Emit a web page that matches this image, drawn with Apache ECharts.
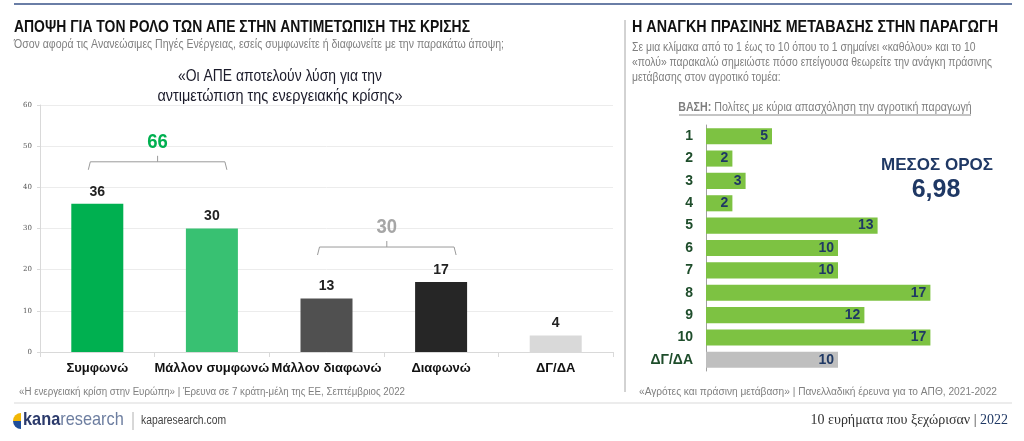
<!DOCTYPE html>
<html>
<head>
<meta charset="utf-8">
<script src="https://cdn.jsdelivr.net/npm/echarts@6/dist/echarts.min.js"></script>
<style>
html,body{margin:0;padding:0;background:#fff;}
#c{width:1024px;height:441px;}
</style>
</head>
<body>
<div id="c"></div>
<script>
// ---- Data ----
const leftCategories = ['Συμφωνώ', 'Μάλλον συμφωνώ', 'Μάλλον διαφωνώ', 'Διαφωνώ', 'ΔΓ/ΔΑ'];
const leftValues = [36, 30, 13, 17, 4];
const leftTicks = [0, 10, 20, 30, 40, 50, 60];
const bracketGroups = [[0, 1], [2, 3]];

const rightCategories = ['1', '2', '3', '4', '5', '6', '7', '8', '9', '10', 'ΔΓ/ΔΑ'];
const rightValues = [5, 2, 3, 2, 13, 10, 10, 17, 12, 17, 10];
const meanValue = '6,98';

// ---- Styles ----
const SANS = "'Liberation Sans',Arial,sans-serif";
const leftColors = ['#00b050', '#38c172', '#505050', '#262626', '#d9d9d9'];
const bracketColors = ['#00b050', '#a6a6a6'];
const bracketOffsets = [42, 35];
const navy = '#1f3864';

const mctx = document.createElement('canvas').getContext('2d');
function fit(text, font, w) {
  mctx.font = font;
  const lines = text.split('\n');
  const mw = Math.max(...lines.map(l => mctx.measureText(l).width));
  return w / mw;
}
function txt(x, y, text, font, fill, w, extra) {
  const st = Object.assign({text: text, font: font, fill: fill}, extra || {});
  return {type: 'text', x: x, y: y, scaleX: w ? fit(text, font, w) : 1, style: st};
}

const bracketData = bracketGroups.map(g => {
  const vals = g.map(i => leftValues[i]);
  return [g[0], g[1], Math.max(...vals), vals.reduce((a, b) => a + b, 0)];
});

const F_TITLE = 'bold 17px ' + SANS;
const F_SUB = '12px ' + SANS;
const F_CT = '16px ' + SANS;
const F_FOOT = '10px ' + SANS;
const baseText = 'Πολίτες με κύρια απασχόληση την αγροτική παραγωγή';

const chart = echarts.init(document.getElementById('c'));
chart.setOption({
  animation: false,
  grid: [
    {left: 40, top: 105, width: 573, height: 247},
    {left: 706, top: 125, width: 264, height: 246}
  ],
  xAxis: [
    {
      type: 'category', gridIndex: 0, data: leftCategories,
      axisLine: {lineStyle: {color: '#d9d9d9'}},
      axisTick: {show: true, lineStyle: {color: '#d9d9d9'}},
      axisLabel: {color: '#111', fontFamily: SANS, fontWeight: 'bold', fontSize: 13, margin: 10, interval: 0}
    },
    {type: 'value', gridIndex: 1, min: 0, max: 20, show: false}
  ],
  yAxis: [
    {
      type: 'value', gridIndex: 0, min: leftTicks[0], max: leftTicks[leftTicks.length - 1], interval: 10,
      axisLine: {show: true, lineStyle: {color: '#d9d9d9'}},
      axisTick: {show: true, length: 3, lineStyle: {color: '#d9d9d9'}},
      axisLabel: {color: '#555', fontFamily: "'DejaVu Serif',serif", fontSize: 7, margin: 8},
      splitLine: {lineStyle: {color: '#ececec'}}
    },
    {
      type: 'category', gridIndex: 1, data: rightCategories, inverse: true,
      axisLine: {lineStyle: {color: '#a0a0a0'}},
      axisTick: {show: false},
      axisLabel: {color: '#1e4d2b', fontFamily: SANS, fontWeight: 'bold', fontSize: 14, margin: 13}
    }
  ],
  series: [
    {
      type: 'bar', xAxisIndex: 0, yAxisIndex: 0, barWidth: 52,
      data: leftValues.map((v, i) => ({value: v, itemStyle: {color: leftColors[i]}})),
      label: {show: true, position: 'top', distance: 5, color: '#222', fontFamily: SANS, fontWeight: 'bold', fontSize: 14}
    },
    {
      type: 'custom', xAxisIndex: 0, yAxisIndex: 0,
      data: bracketData,
      renderItem: function (params, api) {
        const i = params.dataIndex;
        const c1 = api.coord([api.value(0), api.value(2)]);
        const c2 = api.coord([api.value(1), api.value(2)]);
        const x1 = c1[0] - 9, x2 = c2[0] + 15;
        const y = c1[1] - bracketOffsets[i];
        const xm = (x1 + x2) / 2;
        const col = '#9a9a9a';
        return {
          type: 'group',
          children: [
            {type: 'polyline', shape: {points: [[x1, y + 8], [x1 + 2, y], [x2 - 2, y], [x2, y + 8]]}, style: {stroke: col, lineWidth: 1, fill: null}},
            {type: 'line', shape: {x1: xm, y1: y, x2: xm, y2: y - 6}, style: {stroke: col, lineWidth: 1}},
            {type: 'text', x: xm, y: y - 20, scaleX: 0.88, style: {text: String(api.value(3)), fill: bracketColors[i], font: 'bold 21px ' + SANS, textAlign: 'center', textVerticalAlign: 'middle'}}
          ]
        };
      }
    },
    {
      type: 'bar', xAxisIndex: 1, yAxisIndex: 1, barCategoryGap: '28%',
      data: rightValues.map((v, i) => ({value: v, itemStyle: {color: rightCategories[i] === 'ΔΓ/ΔΑ' ? '#bfbfbf' : '#7dc242'}})),
      label: {show: true, position: 'insideRight', distance: 4, color: navy, fontFamily: SANS, fontWeight: 'bold', fontSize: 14}
    }
  ],
  graphic: [
    {type: 'line', shape: {x1: 14, y1: 4, x2: 1012, y2: 4}, style: {stroke: '#6a7ea6', lineWidth: 2}},
    {type: 'line', shape: {x1: 625, y1: 20, x2: 625, y2: 392}, style: {stroke: '#a6a6a6', lineWidth: 1}},
    {type: 'line', shape: {x1: 14, y1: 403, x2: 1012, y2: 403}, style: {stroke: '#ececec', lineWidth: 2}},
    txt(14, 19, 'ΑΠΟΨΗ ΓΙΑ ΤΟΝ ΡΟΛΟ ΤΩΝ ΑΠΕ ΣΤΗΝ ΑΝΤΙΜΕΤΩΠΙΣΗ ΤΗΣ ΚΡΙΣΗΣ', F_TITLE, '#111', 456),
    txt(14, 39, 'Όσον αφορά τις Ανανεώσιμες Πηγές Ενέργειας, εσείς συμφωνείτε ή διαφωνείτε με την παρακάτω άποψη;', F_SUB, '#808080', 490),
    txt(280, 77, '«Οι ΑΠΕ αποτελούν λύση για την', F_CT, '#1b1b2a', 204, {textAlign: 'center', textVerticalAlign: 'middle'}),
    txt(280, 97, 'αντιμετώπιση της ενεργειακής κρίσης»', F_CT, '#1b1b2a', 245, {textAlign: 'center', textVerticalAlign: 'middle'}),
    txt(632, 19, 'Η ΑΝΑΓΚΗ ΠΡΑΣΙΝΗΣ ΜΕΤΑΒΑΣΗΣ ΣΤΗΝ ΠΑΡΑΓΩΓΗ', F_TITLE, '#111', 366),
    txt(632, 40, 'Σε μια κλίμακα από το 1 έως το 10 όπου το 1 σημαίνει «καθόλου» και το 10\n«πολύ» παρακαλώ σημειώστε πόσο επείγουσα θεωρείτε την ανάγκη πράσινης\nμετάβασης στον αγροτικό τομέα:', F_SUB, '#808080', 360, {lineHeight: 15}),
    {type: 'text', x: 825, y: 108, scaleX: fit('ΒΑΣΗ: ' + baseText, F_SUB, 292),
      style: {text: '{b|ΒΑΣΗ:} {n|' + baseText + '}', textAlign: 'center', textVerticalAlign: 'middle',
        rich: {b: {font: 'bold 12px ' + SANS, fill: '#7f7f7f'}, n: {font: F_SUB, fill: '#7f7f7f'}}}},
    {type: 'line', shape: {x1: 679, y1: 115, x2: 971, y2: 115}, style: {stroke: '#8a8a8a', lineWidth: 1}},
    {type: 'text', x: 937, y: 165, style: {text: 'ΜΕΣΟΣ ΟΡΟΣ', font: 'bold 17px ' + SANS, fill: navy, textAlign: 'center', textVerticalAlign: 'middle', shadowColor: 'rgba(0,0,0,0.35)', shadowBlur: 3, shadowOffsetX: 1, shadowOffsetY: 1}},
    {type: 'text', x: 936, y: 190, style: {text: meanValue, font: 'bold 25px ' + SANS, fill: navy, textAlign: 'center', textVerticalAlign: 'middle', shadowColor: 'rgba(0,0,0,0.35)', shadowBlur: 3, shadowOffsetX: 1, shadowOffsetY: 1}},
    txt(19, 387, '«Η ενεργειακή κρίση στην Ευρώπη» | Έρευνα σε 7 κράτη-μέλη της ΕΕ, Σεπτέμβριος 2022', F_FOOT, '#808080', 386),
    txt(639, 387, '«Αγρότες και πράσινη μετάβαση» | Πανελλαδική έρευνα για το ΑΠΘ, 2021-2022', F_FOOT, '#808080', 358),
    {type: 'sector', shape: {cx: 21, cy: 421, r0: 0, r: 8, startAngle: Math.PI, endAngle: Math.PI * 1.5}, style: {fill: '#f2b705'}},
    {type: 'sector', shape: {cx: 21, cy: 421, r0: 0, r: 8, startAngle: Math.PI * 0.5, endAngle: Math.PI}, style: {fill: '#1f4e9a'}},
    {type: 'text', x: 23, y: 410, scaleX: 0.86, style: {text: '{k|kana}{r|research}', rich: {k: {font: 'bold 19px ' + SANS, fill: '#2b3a6b'}, r: {font: '19px ' + SANS, fill: '#6d7ea0'}}}},
    {type: 'line', shape: {x1: 133, y1: 412, x2: 133, y2: 430}, style: {stroke: '#b0b0b0', lineWidth: 1}},
    txt(141, 415, 'kaparesearch.com', '12px ' + SANS, '#444', 85),
    {type: 'text', right: 16, top: 413, style: {text: '{a|10 ευρήματα που ξεχώρισαν | }{b|2022}', rich: {a: {font: '14px "Liberation Serif",serif', fill: '#333'}, b: {font: '14px "Liberation Serif",serif', fill: navy}}}}
  ]
});
</script>
</body>
</html>
